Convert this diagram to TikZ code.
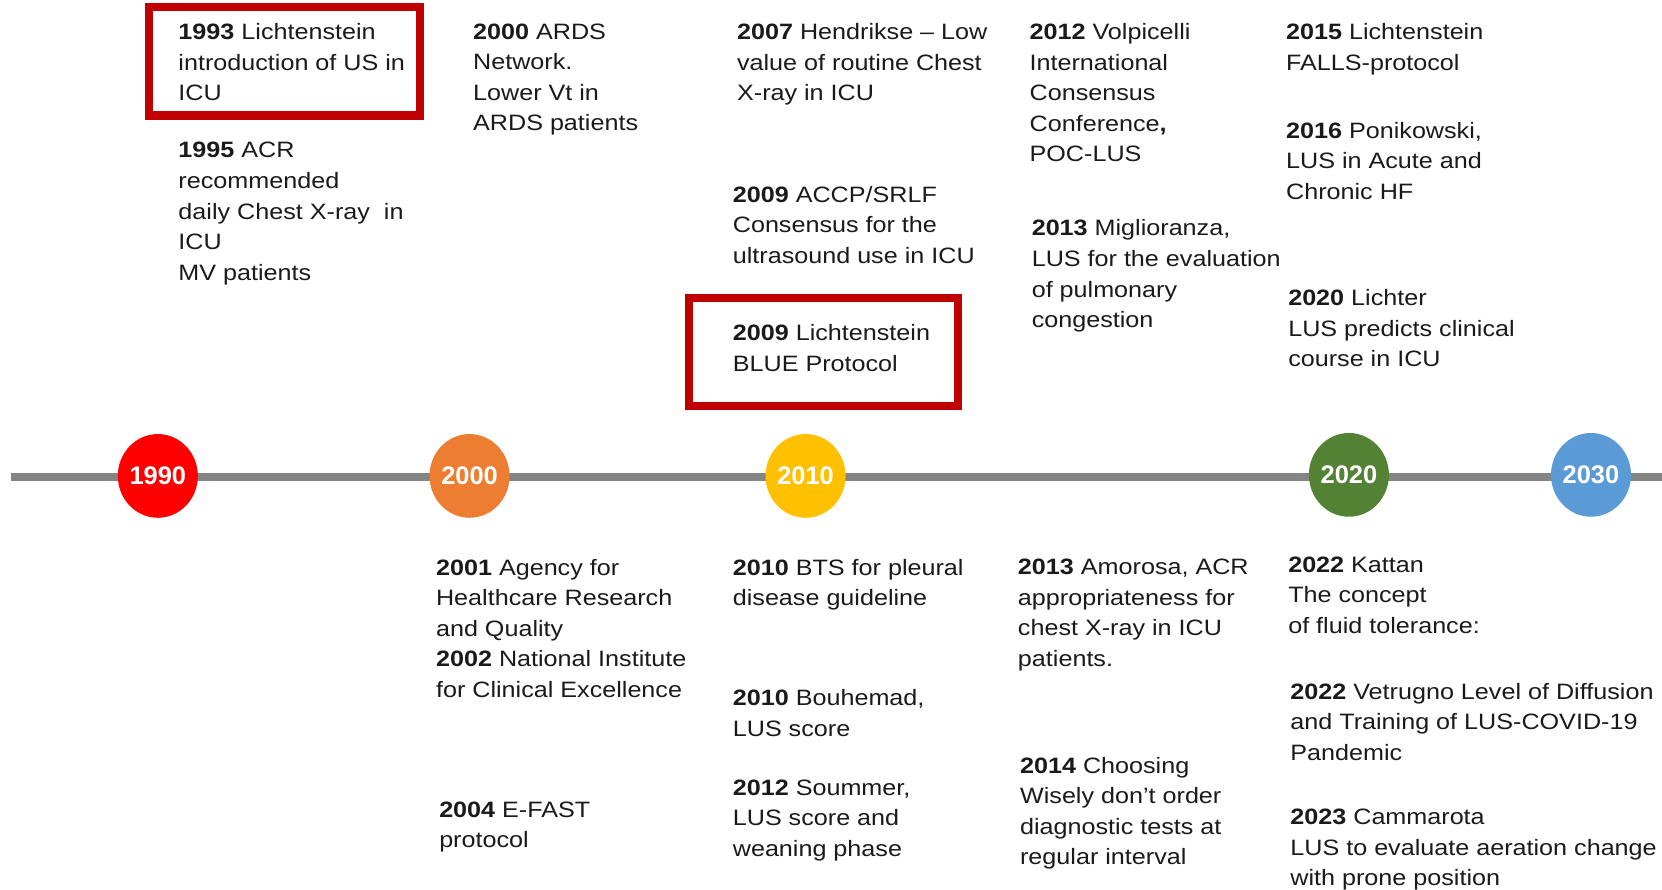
\documentclass[tikz,border=0pt]{standalone}
\usepackage{fontspec}
\setmainfont{Liberation Sans}[FakeStretch=1.13]
\newfontfamily\circfont{Liberation Sans}
\usetikzlibrary{shapes.geometric}
\definecolor{boxred}{HTML}{C00000}
\definecolor{c1990}{HTML}{FF0000}
\definecolor{c2000}{HTML}{ED7D31}
\definecolor{c2010}{HTML}{FFC000}
\definecolor{c2020}{HTML}{548235}
\definecolor{c2030}{HTML}{5B9BD5}
\definecolor{tline}{HTML}{858585}
\definecolor{txt}{HTML}{1A1A1A}
\begin{document}
\begin{tikzpicture}[x=0.5pt,y=-0.5pt,
  ev/.style={anchor=north west, inner sep=0pt, align=left, text=txt,
    font=\fontsize{10.5}{14.4}\selectfont},
  yearc/.style={ellipse, minimum width=36.5pt, minimum height=39.5pt, inner sep=0pt,
    text=white, font=\circfont\bfseries\fontsize{12}{12}\selectfont},
  redbox/.style={draw=boxred, line width=3.9pt}]
\useasboundingbox (0,0) rectangle (1568,839);
% timeline
\coordinate (lstart) at (10,450);
\coordinate (lend) at (1568,450);
\draw[tline, line width=3.5pt] (lstart) -- (lend);
\node[yearc, fill=c1990] (y1990) at (148.9,449) {1990};
\node[yearc, fill=c2000] (y2000) at (443,449) {2000};
\node[yearc, fill=c2010] (y2010) at (760,449) {2010};
\node[yearc, fill=c2020] (y2020) at (1272.6,448) {2020};
\node[yearc, fill=c2030] (y2030) at (1501,448) {2030};
% red boxes
\draw[redbox] (140.7,6.7) rectangle (396,109);
\draw[redbox] (650,281.4) rectangle (904,383);
% top events
\node[ev] (t1993) at (168,22) {\textbf{1993} Lichtenstein\\introduction of US in\\ICU};
\node[ev] (t1995) at (168,134) {\textbf{1995} ACR\\recommended\\daily Chest X-ray~ in\\ICU\\MV patients};
\node[ev] (t2000) at (446,22) {\textbf{2000} ARDS\\Network.\\Lower Vt in\\ARDS patients};
\node[ev] (t2007) at (695,22) {\textbf{2007} Hendrikse -- Low\\value of routine Chest\\X-ray in ICU};
\node[ev] (t2009a) at (691,175) {\textbf{2009} ACCP/SRLF\\Consensus for the\\ultrasound use in ICU};
\node[ev] (t2009b) at (691,306) {\textbf{2009} Lichtenstein\\BLUE Protocol};
\node[ev] (t2012v) at (971,22) {\textbf{2012} Volpicelli\\International\\Consensus\\Conference\textbf{,}\\POC-LUS};
\node[ev] (t2013m) at (973,207) {\textbf{2013} Miglioranza,\\LUS for the evaluation\\of pulmonary\\congestion};
\node[ev] (t2015) at (1213,22) {\textbf{2015} Lichtenstein\\FALLS-protocol};
\node[ev] (t2016) at (1213,115) {\textbf{2016} Ponikowski,\\LUS in Acute and\\Chronic HF};
\node[ev] (t2020) at (1215,273) {\textbf{2020} Lichter\\LUS predicts clinical\\course in ICU};
% bottom events
\node[ev] (t2001) at (411,527) {\textbf{2001} Agency for\\Healthcare Research\\and Quality\\\textbf{2002} National Institute\\for Clinical Excellence};
\node[ev] (t2004) at (414,756) {\textbf{2004} E-FAST\\protocol};
\node[ev] (t2010a) at (691,527) {\textbf{2010} BTS for pleural\\disease guideline};
\node[ev] (t2010b) at (691,650) {\textbf{2010} Bouhemad,\\LUS score};
\node[ev] (t2012s) at (691,735) {\textbf{2012} Soummer,\\LUS score and\\weaning phase};
\node[ev] (t2013a) at (960,527) {\textbf{2013} Amorosa, ACR\\appropriateness for\\chest X-ray in ICU\\patients.};
\node[ev] (t2014) at (962,714) {\textbf{2014} Choosing\\Wisely don’t order\\diagnostic tests at\\regular interval};
\node[ev] (t2022k) at (1215,525) {\textbf{2022} Kattan\\The concept\\of fluid tolerance:};
\node[ev] (t2022v) at (1217,644) {\textbf{2022} Vetrugno Level of Diffusion\\and Training of LUS-COVID-19\\Pandemic};
\node[ev] (t2023) at (1217,763) {\textbf{2023} Cammarota\\LUS to evaluate aeration change\\with prone position};
\end{tikzpicture}
\end{document}
